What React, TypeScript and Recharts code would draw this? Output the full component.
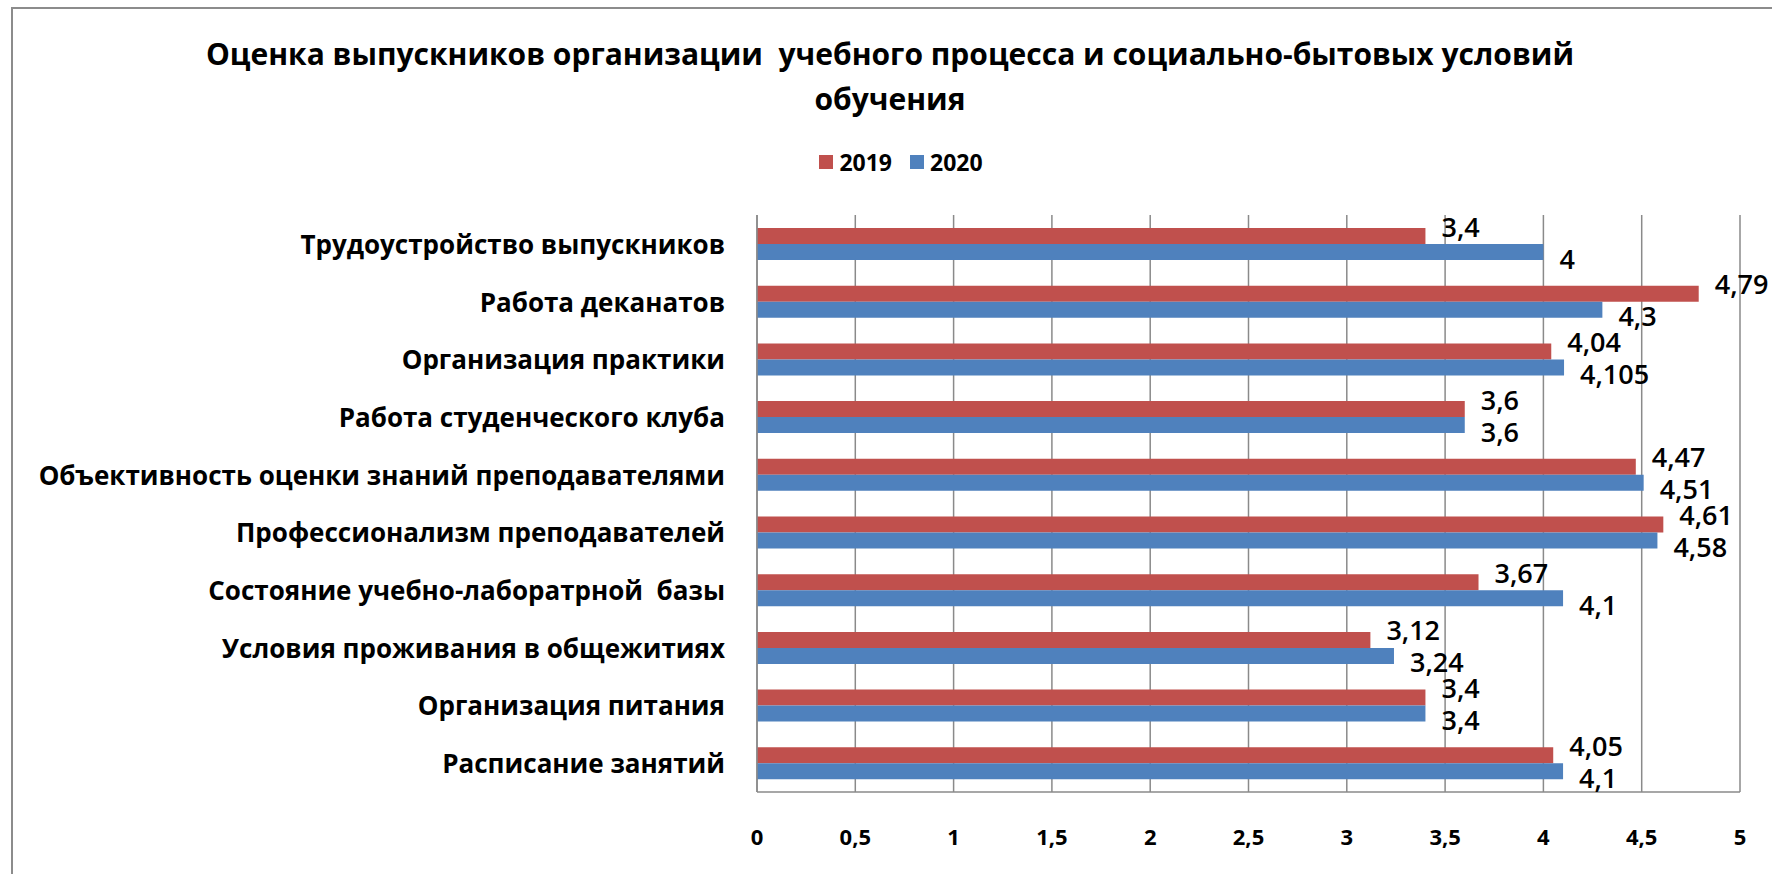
import React from 'react';
import { BarChart, Bar, XAxis, YAxis, CartesianGrid, LabelList } from 'recharts';

const categories = [
  'Трудоустройство выпускников',
  'Работа деканатов',
  'Организация практики',
  'Работа студенческого клуба',
  'Объективность оценки знаний преподавателями',
  'Профессионализм преподавателей',
  'Состояние учебно-лаборатрной  базы',
  'Условия проживания в общежитиях',
  'Организация питания',
  'Расписание занятий',
];

const values2019 = [3.4, 4.79, 4.04, 3.6, 4.47, 4.61, 3.67, 3.12, 3.4, 4.05];
const values2020 = [4, 4.3, 4.105, 3.6, 4.51, 4.58, 4.1, 3.24, 3.4, 4.1];

const xTicks = [0, 0.5, 1, 1.5, 2, 2.5, 3, 3.5, 4, 4.5, 5];

const RED = '#C0504D';
const BLUE = '#4F81BD';
const FONT = '"Open Sans", sans-serif';

const data = categories.map((name, i) => ({
  name,
  v2019: values2019[i],
  v2020: values2020[i],
}));

const fmt = (v: number) => String(v).replace('.', ',');

const makeLabel = (dy: number) => (props: any) => {
  const { x, y, width, height, value } = props;
  return (
    <text
      x={x + width + 16}
      y={y + height / 2 + dy}
      dominantBaseline="central"
      fontFamily={FONT}
      fontSize={27}
      fontWeight={600}
      fill="#000"
    >
      {fmt(value)}
    </text>
  );
};

const CategoryTick = (props: any) => {
  const { x, y, payload } = props;
  return (
    <text
      x={x}
      y={y}
      textAnchor="end"
      dominantBaseline="central"
      fontFamily={FONT}
      fontSize={26}
      fontWeight={700}
      fill="#000"
      style={{ whiteSpace: 'pre' }}
    >
      {payload.value}
    </text>
  );
};

export default function App() {
  return (
    <div style={{ position: 'absolute', left: 0, top: 0, width: 1772, height: 874, background: '#fff', overflow: 'hidden' }}>
      <div style={{ position: 'absolute', left: 11, top: 7, width: 1770, height: 900, border: '2px solid #8c8c8c', boxSizing: 'border-box' }} />
      <div
        style={{
          position: 'absolute',
          left: 0,
          top: 31,
          width: 1780,
          textAlign: 'center',
          fontFamily: FONT,
          fontSize: 30,
          fontWeight: 700,
          lineHeight: '45px',
          color: '#000',
        }}
      >
        Оценка выпускников организации&nbsp; учебного процесса и социально-бытовых условий
        <br />
        обучения
      </div>
      <div
        style={{
          position: 'absolute',
          left: 0,
          top: 146,
          width: 1802,
          display: 'flex',
          justifyContent: 'center',
          gap: 18,
          fontFamily: FONT,
          fontSize: 23,
          fontWeight: 700,
          lineHeight: '32px',
        }}
      >
        <span style={{ display: 'flex', alignItems: 'center', gap: 6 }}>
          <span style={{ width: 14, height: 14, background: RED, display: 'inline-block' }} />2019
        </span>
        <span style={{ display: 'flex', alignItems: 'center', gap: 6 }}>
          <span style={{ width: 14, height: 14, background: BLUE, display: 'inline-block' }} />2020
        </span>
      </div>
      <div style={{ position: 'absolute', left: 0, top: 0 }}>
        <BarChart
          width={1772}
          height={874}
          data={data}
          layout="vertical"
          margin={{ top: 215, right: 32, bottom: 0, left: 0 }}
          barSize={16}
          barGap={0}
        >
          <CartesianGrid horizontal={false} stroke="#8a8a8a" strokeWidth={1.5} />
          <XAxis
            type="number"
            domain={[0, 5]}
            ticks={xTicks}
            interval={0}
            tickFormatter={fmt}
            axisLine={{ stroke: '#8a8a8a', strokeWidth: 1.5 }}
            tickLine={false}
            tickSize={0}
            tickMargin={37}
            height={82}
            tick={{ fontFamily: FONT, fontSize: 22, fontWeight: 700, fill: '#000' }}
          />
          <YAxis
            type="category"
            dataKey="name"
            width={757}
            axisLine={{ stroke: '#8a8a8a', strokeWidth: 1.5 }}
            tickLine={false}
            tickSize={0}
            tickMargin={32}
            interval={0}
            tick={<CategoryTick />}
          />
          <Bar dataKey="v2019" name="2019" fill={RED} isAnimationActive={false}>
            <LabelList dataKey="v2019" content={makeLabel(-10)} />
          </Bar>
          <Bar dataKey="v2020" name="2020" fill={BLUE} isAnimationActive={false}>
            <LabelList dataKey="v2020" content={makeLabel(6)} />
          </Bar>
        </BarChart>
      </div>
    </div>
  );
}
